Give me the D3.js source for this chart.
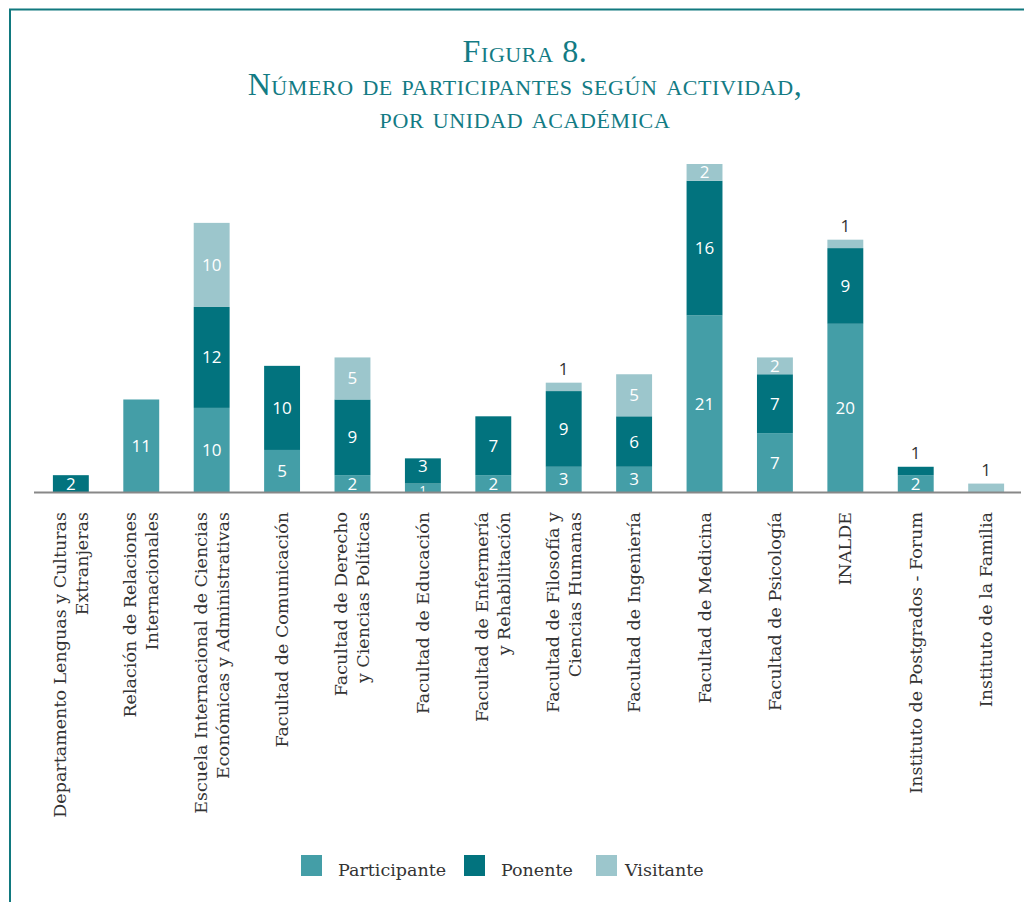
<!DOCTYPE html>
<html>
<head>
<meta charset="utf-8">
<script src="https://cdn.jsdelivr.net/npm/d3@7"></script>
<style>
  body { margin: 0; background: #fff; }
  svg { display: block; }
</style>
</head>
<body>
<svg id="chart" width="1024" height="902"></svg>
<script>
// categories, one entry per bar, each split into its label lines
var categories = [
  ["Departamento Lenguas y Culturas", "Extranjeras"],
  ["Relación de Relaciones", "Internacionales"],
  ["Escuela Internacional de Ciencias", "Económicas y Administrativas"],
  ["Facultad de Comunicación"],
  ["Facultad de Derecho", "y Ciencias Políticas"],
  ["Facultad de Educación"],
  ["Facultad de Enfermería", "y Rehabilitación"],
  ["Facultad de Filosofía y", "Ciencias Humanas"],
  ["Facultad de Ingeniería"],
  ["Facultad de Medicina"],
  ["Facultad de Psicología"],
  ["INALDE"],
  ["Instituto de Postgrados - Forum"],
  ["Instituto de la Familia"]
];
var series = ["Participante", "Ponente", "Visitante"];
var participante = [0, 11, 10, 5, 2, 1, 2, 3, 3, 21, 7, 20, 2, 0];
var ponente      = [2, 0, 12, 10, 9, 3, 7, 9, 6, 16, 7, 9, 1, 0];
var visitante    = [0, 0, 10, 0, 5, 0, 0, 1, 5, 2, 2, 1, 0, 1];
var colors = ["#449ea7", "#02737e", "#9cc6cc"];

var svg = d3.select("#chart");

// frame
svg.append("path")
  .attr("d", "M10,902 V9.5 H1024")
  .attr("fill", "none")
  .attr("stroke", "#11797f")
  .attr("stroke-width", 2);

// title
var title = svg.append("text")
  .attr("text-anchor", "middle")
  .attr("fill", "#137b84")
  .style("font-family", "'Liberation Serif', serif")
  .style("font-variant", "small-caps")
  .style("font-size", "32px")
  .style("letter-spacing", "0.6px");
["Figura 8.", "Número de participantes según actividad,", "por unidad académica"].forEach(function(t, i) {
  title.append("tspan").attr("x", 525).attr("y", 62 + i * 33).text(t);
});

var names = categories.map(function(d) { return d.join(" "); });

var x = d3.scaleBand()
  .domain(names)
  .range([36, 1021])
  .paddingInner(0.49)
  .paddingOuter(0.24);

var y = d3.scaleLinear()
  .domain([0, 39])
  .range([492, 164]);

var rows = names.map(function(n, i) {
  return { name: n, Participante: participante[i], Ponente: ponente[i], Visitante: visitante[i] };
});

var stacked = d3.stack().keys(series)(rows);

var layer = svg.selectAll("g.layer")
  .data(stacked)
  .enter().append("g")
  .attr("class", "layer")
  .attr("fill", function(d, i) { return colors[i]; });

layer.selectAll("rect")
  .data(function(d) { return d; })
  .enter().append("rect")
  .attr("x", function(d) { return x(d.data.name); })
  .attr("width", x.bandwidth())
  .attr("y", function(d) { return y(d[1]); })
  .attr("height", function(d) { return y(d[0]) - y(d[1]); });

// value labels: inside in white, or above in dark when a 1 sits on top
stacked.forEach(function(s, si) {
  s.forEach(function(d, i) {
    var v = d[1] - d[0];
    if (v <= 0) return;
    var isTop = stacked.slice(si + 1).every(function(o) { return o[i][1] - o[i][0] === 0; });
    var above = isTop && v === 1;
    var small = !above && v === 1;
    var lowSmall = si > 0 && d[0] === 1;
    var ty = above ? y(d[1]) - 8
      : small ? y(d[0]) + 3
      : (y(d[0]) + y(d[1])) / 2 + (lowSmall ? 1 : 6);
    svg.append("text")
      .attr("x", x(d.data.name) + x.bandwidth() / 2)
      .attr("y", ty)
      .attr("text-anchor", "middle")
      .attr("fill", above ? "#333" : "#fff")
      .style("font-family", "'Open Sans', sans-serif")
      .style("font-size", small ? "13px" : "17px")
      .text(v);
  });
});

// axis line
svg.append("line")
  .attr("x1", 34).attr("x2", 1021)
  .attr("y1", 492.5).attr("y2", 492.5)
  .attr("stroke", "#888")
  .attr("stroke-width", 2);

// rotated category labels
var labels = svg.selectAll("text.cat")
  .data(categories)
  .enter().append("text")
  .attr("class", "cat")
  .attr("text-anchor", "end")
  .attr("fill", "#333")
  .style("font-family", "'DejaVu Serif', serif")
  .style("font-size", "17.5px")
  .attr("transform", function(d, i) {
    return "translate(" + (x(names[i]) + x.bandwidth() / 2) + ",512) rotate(-90)";
  });

labels.each(function(d) {
  var t = d3.select(this);
  d.forEach(function(line, j) {
    var off = (j - (d.length - 1) / 2) * 22 + 6;
    t.append("tspan").attr("x", 0).attr("y", off).text(line);
  });
});

// legend
var legendX = [301, 464, 596];
series.forEach(function(s, i) {
  svg.append("rect")
    .attr("x", legendX[i]).attr("y", 855)
    .attr("width", 21).attr("height", 21)
    .attr("fill", colors[i]);
  svg.append("text")
    .attr("x", legendX[i] + (i === 2 ? 29 : 37)).attr("y", 876)
    .attr("fill", "#333")
    .style("font-family", "'DejaVu Serif', serif")
    .style("font-size", "17.5px")
    .text(s);
});
</script>
</body>
</html>
